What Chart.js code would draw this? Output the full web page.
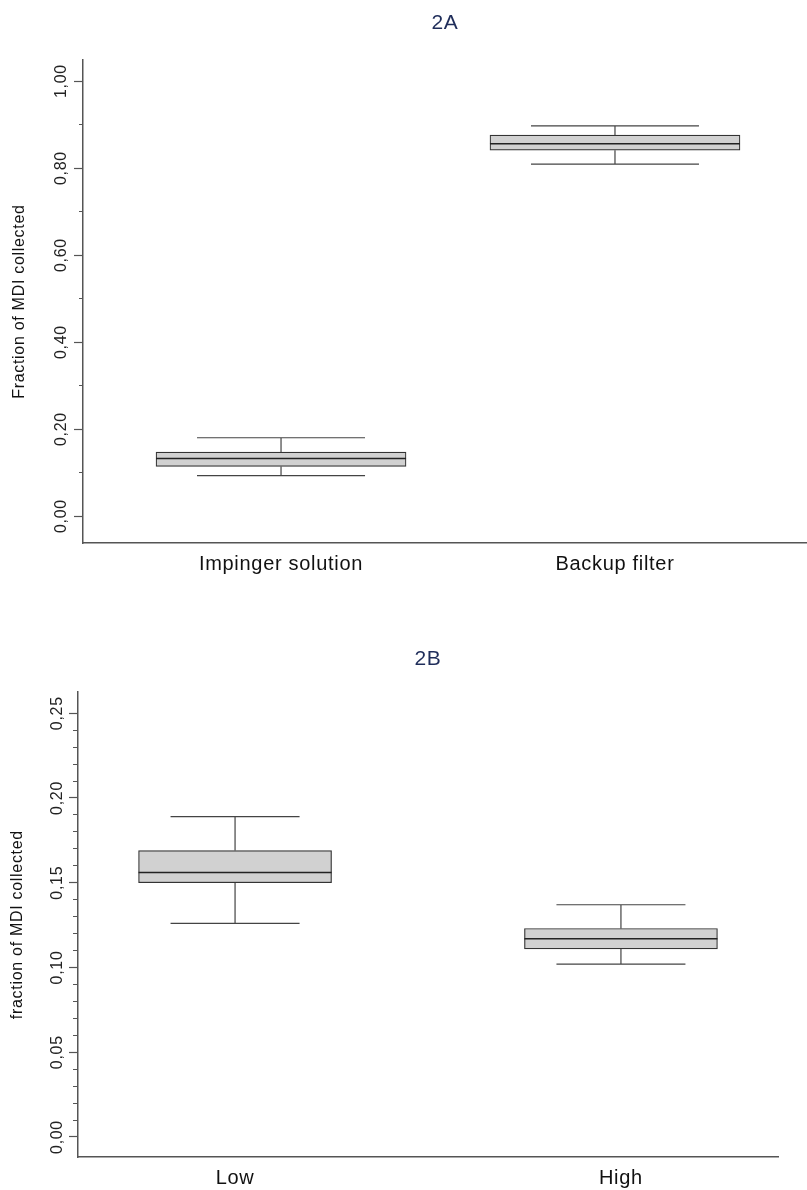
<!DOCTYPE html>
<html lang="en">
<head>
  <meta charset="UTF-8" />
  <title>Fraction of MDI collected</title>
  <script src="https://cdn.jsdelivr.net/npm/chart.js"></script>
  <style>
    body {
      margin: 0;
      background: #fff;
    }

    .chart-box {
      position: absolute;
      left: 0;
      width: 807px;
    }

    #boxA { top: 0; height: 600px; }
    #boxB { top: 620px; height: 570px; }
  </style>
</head>
<body>
  <div class="chart-box" id="boxA"><canvas id="chartA"></canvas></div>
  <div class="chart-box" id="boxB"><canvas id="chartB"></canvas></div>

  <script>
    // 2A - impinger solution vs backup filter
    const categoriesA = ['Impinger solution', 'Backup filter'];
    const minA    = [0.093, 0.809];
    const q1A     = [0.114, 0.841];
    const medianA = [0.132, 0.856];
    const q3A     = [0.147, 0.876];
    const maxA    = [0.180, 0.897];
    const yTicksA = [0, 0.2, 0.4, 0.6, 0.8, 1.0];

    // 2B - low vs high
    const categoriesB = ['Low', 'High'];
    const minB    = [0.126, 0.102];
    const q1B     = [0.150, 0.111];
    const medianB = [0.156, 0.117];
    const q3B     = [0.169, 0.123];
    const maxB    = [0.189, 0.137];
    const yTicksB = [0, 0.05, 0.10, 0.15, 0.20, 0.25];

    Chart.defaults.font.family = '"Liberation Sans", Arial, sans-serif';
    Chart.defaults.color = '#222';

    const isMajor = (v, majors) => majors.some(m => Math.abs(m - v) < 1e-6);

    // slightly wider lettering for every label on the canvas
    const spacingPlugin = {
      id: 'spacing',
      beforeDraw(chart) { chart.ctx.letterSpacing = '0.7px'; },
      afterDraw(chart) { chart.ctx.letterSpacing = '0px'; }
    };

    // whiskers under the boxes, median line on top
    function boxPlugin(stats, capWidth) {
      return {
        id: 'boxWhiskers',
        beforeDatasetsDraw(chart) {
          const { ctx, scales: { x, y } } = chart;
          ctx.save();
          ctx.strokeStyle = '#444';
          ctx.lineWidth = 1.2;
          stats.min.forEach((lo, i) => {
            const px = x.getPixelForValue(i + 1);
            const pLo = y.getPixelForValue(lo);
            const pHi = y.getPixelForValue(stats.max[i]);
            ctx.beginPath();
            ctx.moveTo(px, y.getPixelForValue(stats.q1[i]));
            ctx.lineTo(px, pLo);
            ctx.moveTo(px, y.getPixelForValue(stats.q3[i]));
            ctx.lineTo(px, pHi);
            ctx.moveTo(px - capWidth / 2, pLo);
            ctx.lineTo(px + capWidth / 2, pLo);
            ctx.moveTo(px - capWidth / 2, pHi);
            ctx.lineTo(px + capWidth / 2, pHi);
            ctx.stroke();
          });
          ctx.restore();
        },
        afterDatasetsDraw(chart) {
          const { ctx, scales: { y } } = chart;
          const bars = chart.getDatasetMeta(0).data;
          ctx.save();
          ctx.strokeStyle = '#222';
          ctx.lineWidth = 1.5;
          stats.median.forEach((m, i) => {
            const bar = bars[i];
            const py = y.getPixelForValue(m);
            ctx.beginPath();
            ctx.moveTo(bar.x - bar.width / 2, py);
            ctx.lineTo(bar.x + bar.width / 2, py);
            ctx.stroke();
          });
          ctx.restore();
        }
      };
    }

    function makeChart(id, o) {
      const data = o.categories.map((c, i) => ({ x: i + 1, y: [o.q1[i], o.q3[i]] }));
      return new Chart(document.getElementById(id), {
        type: 'bar',
        data: {
          datasets: [{
            data,
            backgroundColor: '#d1d1d1',
            borderColor: '#333',
            borderWidth: 1.2,
            borderSkipped: false,
            barThickness: o.barWidth
          }]
        },
        options: {
          responsive: true,
          maintainAspectRatio: false,
          animation: false,
          layout: { padding: { left: 0, right: o.padRight, top: 0, bottom: 0 } },
          plugins: {
            legend: { display: false },
            tooltip: { enabled: false },
            title: {
              display: true,
              fullSize: false,
              text: o.title,
              color: '#1f2d5a',
              font: { size: 21, weight: 'normal' },
              padding: o.titlePad
            }
          },
          scales: {
            x: {
              type: 'linear',
              offset: false,
              min: o.xMin,
              max: o.xMax,
              afterFit: s => { s.height = o.xHeight; },
              afterBuildTicks: s => { s.ticks = o.categories.map((c, i) => ({ value: i + 1 })); },
              border: { color: '#555', width: 1.5 },
              grid: { drawOnChartArea: false, drawTicks: false, offset: false },
              ticks: {
                autoSkip: false,
                padding: 9,
                color: '#111',
                font: { size: 20 },
                callback: (v, i) => o.categories[i]
              }
            },
            y: {
              type: 'linear',
              min: o.yMin,
              max: o.yMax,
              afterFit: s => { s.width = o.yWidth; },
              afterBuildTicks: s => {
                const top = o.yTicks[o.yTicks.length - 1];
                const n = Math.round(top / o.minorStep);
                const ticks = [];
                for (let k = 0; k <= n; k++) ticks.push({ value: k * o.minorStep });
                s.ticks = ticks;
              },
              border: { color: '#555', width: 1.5 },
              grid: {
                drawOnChartArea: false,
                drawTicks: true,
                tickLength: 9,
                tickColor: '#555',
                tickWidth: 1.2,
                // minor ticks: only the inner part next to the axis
                tickBorderDash: c => (c.tick && isMajor(c.tick.value, o.yTicks)) ? [] : [0, 9 - o.minorLen, o.minorLen, 40]
              },
              title: {
                display: true,
                text: o.yTitle,
                color: '#111',
                font: { size: 16 },
                padding: { top: o.yTitlePad, bottom: 0 }
              },
              ticks: {
                autoSkip: false,
                minRotation: 90,
                maxRotation: 90,
                crossAlign: 'center',
                padding: o.tickPad,
                color: '#222',
                font: { size: 16 },
                callback: v => isMajor(v, o.yTicks) ? v.toFixed(2).replace('.', ',') : ''
              }
            }
          }
        },
        plugins: [spacingPlugin, boxPlugin(o, o.capWidth)]
      });
    }

    makeChart('chartA', {
      title: '2A',
      titlePad: { top: 11, bottom: 24 },
      categories: categoriesA,
      min: minA, q1: q1A, median: medianA, q3: q3A, max: maxA,
      yTicks: yTicksA,
      minorStep: 0.1,
      minorLen: 4,
      yMin: -0.062, yMax: 1.048,
      xMin: 0.407, xMax: 2.575,
      yWidth: 83, xHeight: 57,
      padRight: 0,
      barWidth: 250, capWidth: 168,
      yTitle: 'Fraction of MDI collected',
      yTitlePad: 10,
      tickPad: -3
    });

    makeChart('chartB', {
      title: '2B',
      titlePad: { top: 27, bottom: 20 },
      categories: categoriesB,
      min: minB, q1: q1B, median: medianB, q3: q3B, max: maxB,
      yTicks: yTicksB,
      minorStep: 0.01,
      minorLen: 5,
      yMin: -0.0118, yMax: 0.2624,
      xMin: 0.593, xMax: 2.407,
      yWidth: 78, xHeight: 33,
      padRight: 29,
      barWidth: 193, capWidth: 129,
      yTitle: 'fraction of MDI collected',
      yTitlePad: 8,
      tickPad: -4
    });
  </script>
</body>
</html>
